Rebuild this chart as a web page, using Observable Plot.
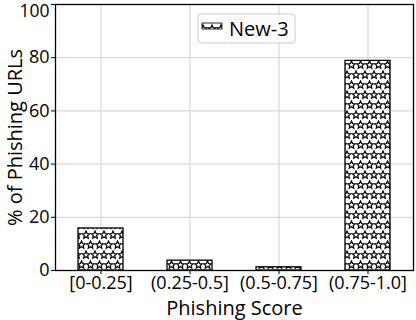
<!DOCTYPE html>
<html>
<head>
<meta charset="utf-8">
<script src="https://cdn.jsdelivr.net/npm/d3@7"></script>
<script src="https://cdn.jsdelivr.net/npm/@observablehq/plot@0.6"></script>
<style>
  body { margin: 0; background: #fff; }
  #chart { position: relative; width: 416px; height: 320px; }
  #chart svg { font-family: "Open Sans", sans-serif; }
</style>
</head>
<body>
<div id="chart"></div>
<script>
const categories = ["[0-0.25]", "(0.25-0.5]", "(0.5-0.75]", "(0.75-1.0]"];
const values = [15.8, 3.7, 1.2, 78.8];
const seriesName = "New-3";
const yTicks = [0, 20, 40, 60, 80, 100];
const xLabel = "Phishing Score";
const yLabel = "% of Phishing URLs";

const data = categories.map((c, i) => ({category: c, value: values[i]}));
const topTick = yTicks[yTicks.length - 1];

const plot = Plot.plot({
  width: 416,
  height: 320,
  marginLeft: 55,
  marginRight: 3,
  marginTop: 4,
  marginBottom: 50,
  style: {fontFamily: "Open Sans, sans-serif", fontSize: "18px", color: "#000", background: "#fff"},
  x: {domain: categories, paddingInner: 0.5, paddingOuter: 0.25, label: null},
  y: {domain: [0, 100], ticks: yTicks, label: null},
  marks: [
    Plot.gridX(categories, {stroke: "#d0d0d0", strokeOpacity: 1}),
    Plot.gridY(yTicks, {stroke: "#d0d0d0", strokeOpacity: 1}),
    Plot.barY(data, {x: "category", y: "value", fill: "url(#stars)", stroke: "#000", strokeWidth: 1.3}),
    Plot.axisY(yTicks, {tickSize: 4, tickPadding: 2, fontSize: 18, label: null,
      tickFormat: d => d === topTick ? "" : String(d)}),
    Plot.axisY([topTick], {tickSize: 0, tickPadding: 6, fontSize: 17.5, dy: 7, label: null}),
    Plot.axisX({tickSize: 4, tickPadding: 2, fontSize: 18, label: null}),
    Plot.frame({stroke: "#000", strokeWidth: 1.3}),
    Plot.text([xLabel], {frameAnchor: "bottom", lineAnchor: "middle", dy: 38, fontSize: 20, text: d => d}),
    Plot.text([yLabel], {frameAnchor: "left", dx: -40, rotate: -90, textAnchor: "middle", fontSize: 20, text: d => d})
  ]
});

// star pattern definition
const svg = d3.select(plot);
const defs = svg.insert("defs", ":first-child");
function starPath(cx, cy, R, r) {
  const pts = [];
  for (let k = 0; k < 10; k++) {
    const a = -Math.PI / 2 + k * Math.PI / 5;
    const rad = k % 2 === 0 ? R : r;
    pts.push([cx + rad * Math.cos(a), cy + rad * Math.sin(a)]);
  }
  return "M" + pts.map(p => p[0].toFixed(2) + "," + p[1].toFixed(2)).join("L") + "Z";
}
const pat = defs.append("pattern")
  .attr("id", "stars")
  .attr("patternUnits", "userSpaceOnUse")
  .attr("width", 9).attr("height", 20)
  .attr("x", 77).attr("y", 0);
pat.append("rect").attr("width", 9).attr("height", 20).attr("fill", "#fff");
const starPts = [[4.5, 5], [0, 15], [9, 15]];
pat.selectAll("path").data(starPts).join("path")
  .attr("d", d => starPath(d[0], d[1], 3.9, 1.8))
  .attr("fill", "none").attr("stroke", "#000").attr("stroke-width", 1.2);

// legend
const lg = svg.append("g").attr("transform", "translate(198,14)");
lg.append("rect").attr("width", 97).attr("height", 29).attr("rx", 3)
  .attr("fill", "#fff").attr("fill-opacity", 0.85).attr("stroke", "#ccc");
lg.append("rect").attr("x", 4).attr("y", 9).attr("width", 20).attr("height", 6)
  .attr("fill", "url(#stars)").attr("stroke", "#000").attr("stroke-width", 0.8);
lg.append("text").attr("x", 31).attr("y", 21.5)
  .style("font-size", "20px").style("text-anchor", "start").attr("fill", "#000").text(seriesName);

document.getElementById("chart").appendChild(plot);
</script>
</body>
</html>
